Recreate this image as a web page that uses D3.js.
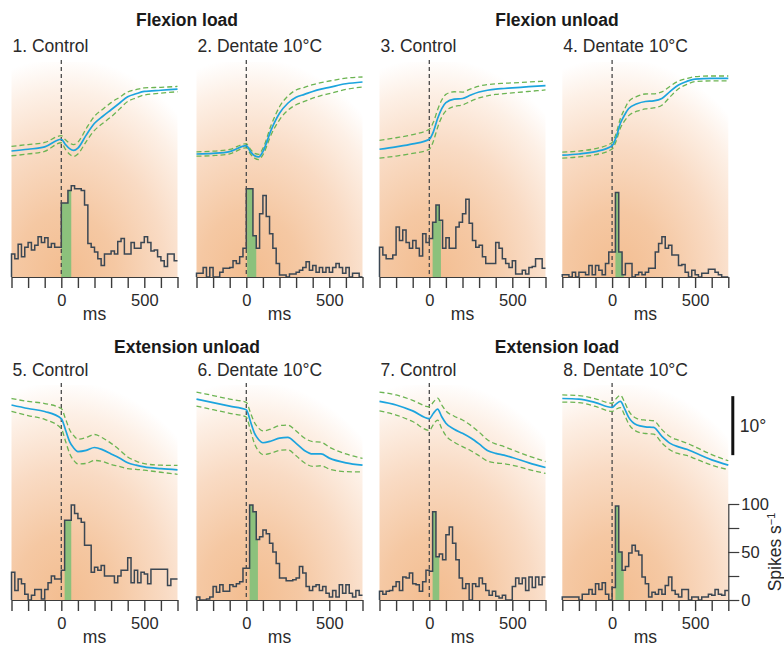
<!DOCTYPE html>
<html>
<head>
<meta charset="utf-8">
<script src="https://cdn.jsdelivr.net/npm/d3@7.9.0/dist/d3.min.js"></script>
<style>
  body { margin: 0; background: #fff; }
  svg { display: block; font-family: "Liberation Sans", Arial, Helvetica, sans-serif; }
</style>
</head>
<body>
<svg id="chart" width="784" height="647"></svg>
<script>
// ---- data ----
const groupTitles = ['Flexion load', 'Flexion unload', 'Extension unload', 'Extension load'];
const panelLabels = ['1. Control', '2. Dentate 10°C', '3. Control', '4. Dentate 10°C',
                     '5. Control', '6. Dentate 10°C', '7. Control', '8. Dentate 10°C'];

const timeTicks = [-300, -200, -100, 0, 100, 200, 300, 400, 500, 600, 700];
const timeLabels = [0, 500];
const spikeTicks = [0, 25, 50, 75, 100];
const spikeLabels = [0, 50, 100];

// 20 ms bins, -300..700 ms (spikes/s)
const binTimes = d3.range(-300, 700, 20);
const spikes1 = [24, 19, 34, 21, 31, 36, 28, 33, 42, 36, 41, 31, 35, 31, 31, 77, 77, 90, 95, 92,
                 92, 90, 75, 35, 31, 26, 19, 12, 24, 24, 27, 24, 37, 40, 24, 24, 36, 30, 30, 36,
                 42, 36, 27, 28, 21, 17, 11, 24, 24, 17];
const spikes2 = [4, 4, 10, 0, 10, 0, 0, 5, 9, 9, 10, 17, 14, 21, 30, 92, 92, 43, 30, 66,
                 85, 63, 45, 30, 14, 2, 2, 0, 3, 3, 5, 7, 10, 16, 7, 12, 5, 10, 5, 10,
                 5, 10, 14, 10, 4, 10, 0, 4, 4, 0];
const spikes3 = [31, 23, 19, 19, 23, 52, 38, 49, 36, 30, 38, 30, 22, 45, 36, 40, 57, 75, 59, 30,
                 41, 30, 30, 52, 57, 66, 81, 56, 38, 31, 33, 21, 14, 14, 14, 36, 30, 19, 14, 10,
                 17, 3, 3, 7, 3, 10, 11, 19, 19, 9];
const spikes4 = [2.4, 2.4, 0, 5, 0, 5, 5, 2.4, 12, 2.4, 12, 7, 2.4, 14, 26, 26, 88, 26, 2.4, 14,
                 14, 0, 2.4, 5, 2.4, 5, 9, 9, 26, 35, 42, 30, 33, 23, 23, 12, 13, 5, 0, 7,
                 2.4, 0, 4, 4, 8, 8, 5, 2.4, 0, 0];
const spikes5 = [29, 10, 22, 17, 6, 0, 5, 11, 11, 1, 11, 18, 25, 22, 22, 31, 83, 83, 99, 90,
                 85, 81, 57, 57, 29, 34, 31, 36, 25, 25, 25, 18, 25, 31, 31, 44, 18, 31, 18, 29,
                 27, 17, 32, 32, 32, 32, 32, 15, 22, 22];
const spikes6 = [3, 0, 0, 1, 3, 14, 8, 16, 9, 9, 16, 14, 17, 19, 33, 33, 99, 92, 63, 66,
                 73, 69, 59, 50, 38, 23, 23, 20, 20, 21, 23, 35, 28, 14, 10, 14, 16, 10, 14, 7,
                 3, 10, 3, 16, 7, 16, 7, 3, 10, 5];
const spikes7 = [9, 6, 9, 10, 14, 19, 10, 24, 23, 28, 17, 16, 9, 19, 31, 30, 92, 45, 48, 42,
                 68, 76, 59, 42, 23, 12, 17, 0, 17, 14, 23, 17, 10, 5, 9, 4, 2, 5, 0, 0,
                 14, 23, 17, 23, 10, 24, 13, 24, 16, 24];
const spikes8 = [3, 3, 3, 3, 3, 0, 6, 6, 11, 6, 17, 11, 18, 6, 0, 13, 98, 50, 31, 35,
                 49, 57, 51, 47, 24, 17, 3, 8, 6, 11, 6, 15, 24, 10, 6, 3, 11, 11, 0, 3,
                 3, 0, 3, 3, 6, 5, 11, 6, 5, 10];

// response window shaded green (ms)
const greenWindows = [[0, 60], [5, 60], [20, 70], [20, 70], [20, 60], [20, 70], [20, 60], [20, 70]];

// joint position (deg) mean and spread
const posTimes = [-300, -200, -100, 0, 25, 50, 75, 100, 150, 200, 250, 300, 350, 400, 450, 500, 600, 700];
const posMean1 = [8.3, 8.6, 9.0, 10.3, 9.4, 8.7, 8.4, 8.8, 11.0, 13.0, 14.2, 15.3, 16.4, 17.5, 18.0, 18.4, 18.6, 18.8];
const posMean2 = [7.8, 7.9, 8.2, 9.2, 8.2, 7.5, 7.3, 8.2, 11.9, 14.7, 16.4, 17.4, 17.9, 18.4, 18.8, 19.1, 19.7, 20.0];
const posMean3 = [8.6, 9.0, 9.5, 10.3, 11.6, 13.8, 15.5, 16.5, 17.1, 17.2, 17.8, 18.3, 18.6, 18.8, 18.9, 19.0, 19.2, 19.4];
const posMean4 = [7.6, 7.8, 8.2, 9.2, 10.7, 13.0, 14.4, 15.5, 16.3, 16.7, 16.8, 17.2, 18.4, 19.5, 20.1, 20.5, 20.6, 20.6];
const posMean5 = [20.0, 19.4, 18.9, 17.7, 15.8, 13.8, 12.7, 12.1, 12.3, 12.8, 12.4, 11.7, 11.0, 10.2, 9.8, 9.5, 9.2, 9.0];
const posMean6 = [21.0, 20.4, 19.8, 19.2, 17.2, 15.2, 14.1, 13.6, 13.9, 14.4, 14.5, 13.5, 12.3, 11.7, 11.7, 11.0, 10.2, 9.8];
const posMean7 = [20.6, 20.0, 19.0, 17.7, 18.6, 19.3, 18.0, 16.9, 15.9, 15.2, 14.4, 13.4, 12.3, 11.8, 11.5, 11.1, 10.2, 9.4];
const posMean8 = [21.1, 21.0, 20.4, 19.6, 20.2, 20.6, 19.4, 17.9, 16.6, 16.3, 16.2, 14.7, 13.5, 12.9, 12.5, 11.9, 10.7, 9.8];

const posSd1 = [0.8, 0.8, 0.75, 0.6, 0.8, 0.95, 1.0, 1.0, 1.1, 1.2, 1.2, 1.2, 1.0, 0.8, 0.7, 0.6, 0.5, 0.45];
const posSd2 = [0.37, 0.37, 0.37, 0.35, 0.4, 0.4, 0.45, 0.55, 0.8, 1.1, 1.2, 1.25, 1.2, 1.15, 1.1, 1.07, 0.95, 0.85];
const posSd3 = [1.5, 1.55, 1.6, 1.7, 1.6, 1.5, 1.45, 1.4, 1.25, 1.1, 1.05, 1.0, 0.95, 0.9, 0.88, 0.85, 0.8, 0.75];
const posSd4 = [0.5, 0.5, 0.52, 0.56, 0.65, 0.8, 1.0, 1.2, 1.25, 1.27, 1.2, 1.13, 0.9, 0.65, 0.5, 0.42, 0.42, 0.42];
const posSd5 = [1.1, 1.2, 1.35, 1.7, 1.9, 2.0, 2.1, 2.1, 2.2, 2.2, 2.0, 1.8, 1.4, 1.0, 0.7, 0.55, 0.6, 0.75];
const posSd6 = [1.2, 1.2, 1.2, 1.25, 1.5, 1.8, 1.95, 2.0, 2.05, 2.1, 2.1, 2.1, 2.1, 2.1, 2.0, 1.85, 1.5, 1.15];
const posSd7 = [1.6, 1.7, 1.8, 2.0, 1.9, 1.85, 2.0, 2.1, 2.2, 2.25, 2.15, 2.0, 1.8, 1.6, 1.45, 1.3, 1.15, 1.0];
const posSd8 = [0.6, 0.6, 0.65, 0.7, 0.9, 1.05, 1.1, 1.1, 1.1, 1.13, 1.13, 1.13, 1.13, 1.13, 1.05, 1.0, 0.9, 0.75];

const scaleBarDeg = [11.5, 21.5]; // 10 degrees

const panels = [
  { spikes: spikes1, mean: posMean1, sd: posSd1 },
  { spikes: spikes2, mean: posMean2, sd: posSd2 },
  { spikes: spikes3, mean: posMean3, sd: posSd3 },
  { spikes: spikes4, mean: posMean4, sd: posSd4 },
  { spikes: spikes5, mean: posMean5, sd: posSd5 },
  { spikes: spikes6, mean: posMean6, sd: posSd6 },
  { spikes: spikes7, mean: posMean7, sd: posSd7 },
  { spikes: spikes8, mean: posMean8, sd: posSd8 },
];

// ---- layout ----
const colX = [11.5, 196.5, 379.5, 562.3];
const panelW = 166;
const rowAxisY = [277, 600];
const titleY = [26, 353];
const labelY = [52, 376];
const msY = [43, 43];
const titleX = [187, 557];
const binW = 20;

const svg = d3.select('#chart');
const defs = svg.append('defs');
const grad = defs.append('radialGradient')
  .attr('id', 'bg')
  .attr('cx', 0.32).attr('cy', 1.0).attr('r', 1.02)
  .attr('fx', 0.32).attr('fy', 1.0);
[[0, '#f3bd90'], [0.3, '#f5c8a3'], [0.6, '#f9dbc4'], [0.85, '#fdf0e6'], [1, '#ffffff']]
  .forEach(([o, c]) => grad.append('stop').attr('offset', o).attr('stop-color', c));

// group titles
groupTitles.forEach((t, i) => {
  svg.append('text')
    .attr('x', titleX[i % 2])
    .attr('y', titleY[Math.floor(i / 2)])
    .attr('text-anchor', 'middle')
    .attr('font-size', 17.5)
    .attr('font-weight', 'bold')
    .attr('fill', '#1a1a1a')
    .text(t);
});

panels.forEach((p, i) => {
  const row = Math.floor(i / 4), col = i % 4;
  const axisY = rowAxisY[row];
  const x = d3.scaleLinear().domain([-300, 700]).range([colX[col], colX[col] + panelW]);
  const hy = d3.scaleLinear().domain([0, 100]).range([axisY, axisY - 96]);
  const py = d3.scaleLinear().domain([0, 20]).range([axisY - 77, axisY - 77 - 118]);
  const g = svg.append('g');

  // background
  g.append('rect')
    .attr('x', x(-300)).attr('y', axisY - 215)
    .attr('width', x(700) - x(-300)).attr('height', 215)
    .attr('fill', 'url(#bg)');

  // panel label
  g.append('text')
    .attr('x', colX[col] + 1).attr('y', labelY[row])
    .attr('font-size', 17.5).attr('fill', '#2a2a2a')
    .text(panelLabels[i]);

  const bins = p.spikes.map((v, k) => ({ t: binTimes[k], v }));

  // green response window
  const [gs, ge] = greenWindows[i];
  const gpts = [];
  bins.forEach(b => {
    if (b.t + binW > gs && b.t < ge) gpts.push({ t: Math.max(b.t, gs), v: b.v });
  });
  gpts.push({ t: ge, v: gpts[gpts.length - 1].v });
  g.append('path')
    .attr('d', d3.area().curve(d3.curveStepAfter)
      .x(d => x(d.t)).y0(hy(0)).y1(d => hy(d.v))(gpts))
    .attr('fill', '#8cc17c');

  // histogram outline
  const hpts = [{ t: -300, v: 0 }, ...bins, { t: 700, v: bins[bins.length - 1].v }];
  g.append('path')
    .attr('d', d3.line().curve(d3.curveStepAfter).x(d => x(d.t)).y(d => hy(d.v))(hpts))
    .attr('fill', 'none')
    .attr('stroke', '#3b4753')
    .attr('stroke-width', 1.5);

  // zero line
  g.append('line')
    .attr('x1', x(0)).attr('x2', x(0))
    .attr('y1', axisY - 217).attr('y2', axisY)
    .attr('stroke', '#4a4a4a').attr('stroke-width', 1.3)
    .attr('stroke-dasharray', '4,3');

  // position traces
  const pts = posTimes.map((t, k) => ({ t, m: p.mean[k], s: p.sd[k] }));
  const mk = f => d3.line().curve(d3.curveMonotoneX).x(d => x(d.t)).y(d => py(f(d)))(pts);
  [d => d.m + d.s, d => d.m - d.s].forEach(f => {
    g.append('path').attr('d', mk(f))
      .attr('fill', 'none').attr('stroke', '#6cb452')
      .attr('stroke-width', 1.3).attr('stroke-dasharray', '5,3');
  });
  g.append('path').attr('d', mk(d => d.m))
    .attr('fill', 'none').attr('stroke', '#1ca4de').attr('stroke-width', 1.7);

  // time axis
  const ax = g.append('g')
    .attr('transform', `translate(0,${axisY})`)
    .call(d3.axisBottom(x).tickValues(timeTicks).tickSize(11).tickSizeOuter(0).tickPadding(6)
      .tickFormat(d => timeLabels.includes(d) ? d : ''));
  ax.select('.domain').attr('stroke', '#3b3b3b').attr('stroke-width', 1.2);
  ax.selectAll('.tick line').attr('stroke', '#3b3b3b').attr('stroke-width', 1.4);
  ax.selectAll('.tick text').attr('font-size', 16.5).attr('fill', '#2a2a2a')
    .attr('font-family', '"Liberation Sans", Arial, sans-serif');

  g.append('text')
    .attr('x', x(200)).attr('y', axisY + msY[row])
    .attr('text-anchor', 'middle').attr('font-size', 17.5).attr('fill', '#2a2a2a')
    .text('ms');

  // scale bars on last panel
  if (i === 7) {
    const sx = x(700) + 4.5;
    svg.append('line')
      .attr('x1', sx).attr('x2', sx)
      .attr('y1', py(scaleBarDeg[0])).attr('y2', py(scaleBarDeg[1]))
      .attr('stroke', '#111').attr('stroke-width', 3);
    svg.append('text')
      .attr('x', sx + 7).attr('y', (py(scaleBarDeg[0]) + py(scaleBarDeg[1])) / 2 + 6)
      .attr('font-size', 17.5).attr('fill', '#2a2a2a').text('10°');

    const ay = svg.append('g')
      .attr('transform', `translate(${x(700)},0)`)
      .call(d3.axisRight(hy).tickValues(spikeTicks).tickSize(11).tickSizeOuter(0).tickPadding(2)
        .tickFormat(d => spikeLabels.includes(d) ? d : ''));
    ay.select('.domain').attr('stroke', '#3b3b3b').attr('stroke-width', 1.2);
    ay.selectAll('.tick line').attr('stroke', '#3b3b3b').attr('stroke-width', 1.2);
    ay.selectAll('.tick text').attr('font-size', 16.5).attr('fill', '#2a2a2a')
      .attr('font-family', '"Liberation Sans", Arial, sans-serif');

    const yl = svg.append('text')
      .attr('transform', `translate(781,${hy(50)}) rotate(-90)`)
      .attr('text-anchor', 'middle').attr('font-size', 17.5).attr('fill', '#2a2a2a');
    yl.append('tspan').text('Spikes s');
    yl.append('tspan').attr('baseline-shift', 'super').attr('font-size', 11).text('−1');
  }
});
</script>
</body>
</html>
